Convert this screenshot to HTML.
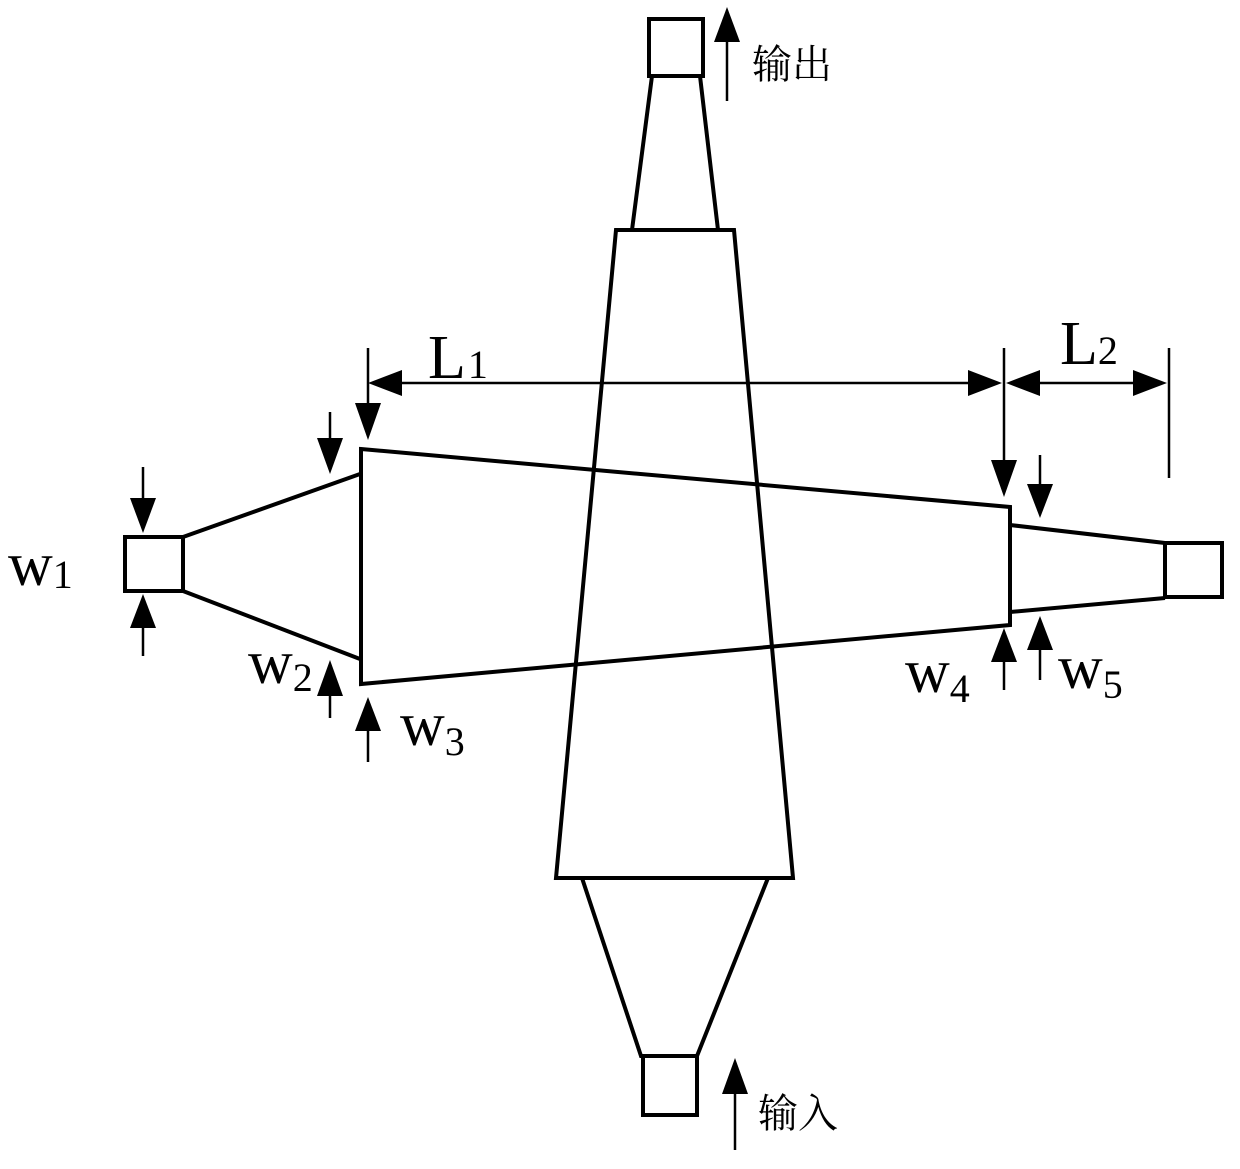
<!DOCTYPE html>
<html><head><meta charset="utf-8"><style>
html,body{margin:0;padding:0;background:#fff;width:1240px;height:1169px;overflow:hidden}
text{font-family:"Liberation Serif","Noto Serif CJK SC",serif;fill:#000}
</style></head><body>
<svg width="1240" height="1169" viewBox="0 0 1240 1169" xmlns="http://www.w3.org/2000/svg">
<g fill="none" stroke="#000" stroke-width="4" stroke-linejoin="miter">
<rect x="649" y="19" width="54" height="57"/>
<polyline points="652,76 632,230 718,230 700,76"/>
<polygon points="616,230 734,230 793,878 556,878"/>
<polyline points="582,878 641,1056 697,1056 768,878"/>
<rect x="643" y="1056" width="54" height="59"/>
<rect x="125" y="537" width="58" height="54"/>
<line x1="183" y1="537" x2="360" y2="474"/>
<line x1="183" y1="591" x2="360" y2="659"/>
<polygon points="361,449 1010,507 1010,625 361,684"/>
<line x1="1010" y1="525" x2="1165" y2="543"/>
<line x1="1010" y1="612" x2="1165" y2="598"/>
<rect x="1165" y="543" width="57" height="54"/>
</g>
<g stroke="#000" stroke-width="2.5" fill="none">
<line x1="368" y1="348" x2="368" y2="415"/>
<line x1="1004" y1="348" x2="1004" y2="470"/>
<line x1="1169" y1="348" x2="1169" y2="478"/>
<line x1="395" y1="383" x2="975" y2="383"/>
<line x1="1030" y1="383" x2="1140" y2="383"/>
<line x1="143" y1="467" x2="143" y2="505"/>
<line x1="143" y1="622" x2="143" y2="656"/>
<line x1="330" y1="412" x2="330" y2="445"/>
<line x1="330" y1="690" x2="330" y2="718"/>
<line x1="368" y1="728" x2="368" y2="762"/>
<line x1="1004" y1="658" x2="1004" y2="690"/>
<line x1="1040" y1="455" x2="1040" y2="490"/>
<line x1="1040" y1="645" x2="1040" y2="680"/>
<line x1="727" y1="38" x2="727" y2="101"/>
<line x1="735" y1="1090" x2="735" y2="1150"/>
</g>
<g fill="#000">
<polygon points="368,383 402,370 402,396"/>
<polygon points="1002,383 968,370 968,396"/>
<polygon points="1006,383 1040,370 1040,396"/>
<polygon points="1167,383 1133,370 1133,396"/>
<polygon points="368,440 355,403 381,403"/>
<polygon points="1004,497 991,460 1017,460"/>
<polygon points="143,533 130,498 156,498"/>
<polygon points="330,474 317,438 343,438"/>
<polygon points="1040,518 1027,484 1053,484"/>
<polygon points="143,594 130,628 156,628"/>
<polygon points="330,660 317,696 343,696"/>
<polygon points="368,697 355,731 381,731"/>
<polygon points="1004,628 991,662 1017,662"/>
<polygon points="1040,616 1027,650 1053,650"/>
<polygon points="727,7 714,42 740,42"/>
<polygon points="735,1058 722,1094 748,1094"/>
</g>
<text x="752" y="78" font-size="40" font-family="'Noto Sans CJK SC',sans-serif">输出</text>
<text x="758" y="1127" font-size="40" font-family="'Noto Sans CJK SC',sans-serif">输入</text>
<text x="428" y="378" font-size="62">L<tspan font-size="40" dx="2" dy="0">1</tspan></text>
<text x="1060" y="364" font-size="62">L<tspan font-size="40">2</tspan></text>
<text x="8" y="585" font-size="62">w<tspan font-size="40" dy="3">1</tspan></text>
<text x="248" y="683" font-size="62">w<tspan font-size="40" dy="8">2</tspan></text>
<text x="400" y="745" font-size="62">w<tspan font-size="40" dy="10">3</tspan></text>
<text x="905" y="692" font-size="62">w<tspan font-size="40" dy="10">4</tspan></text>
<text x="1058" y="688" font-size="62">w<tspan font-size="40" dy="10">5</tspan></text>
</svg>
</body></html>
